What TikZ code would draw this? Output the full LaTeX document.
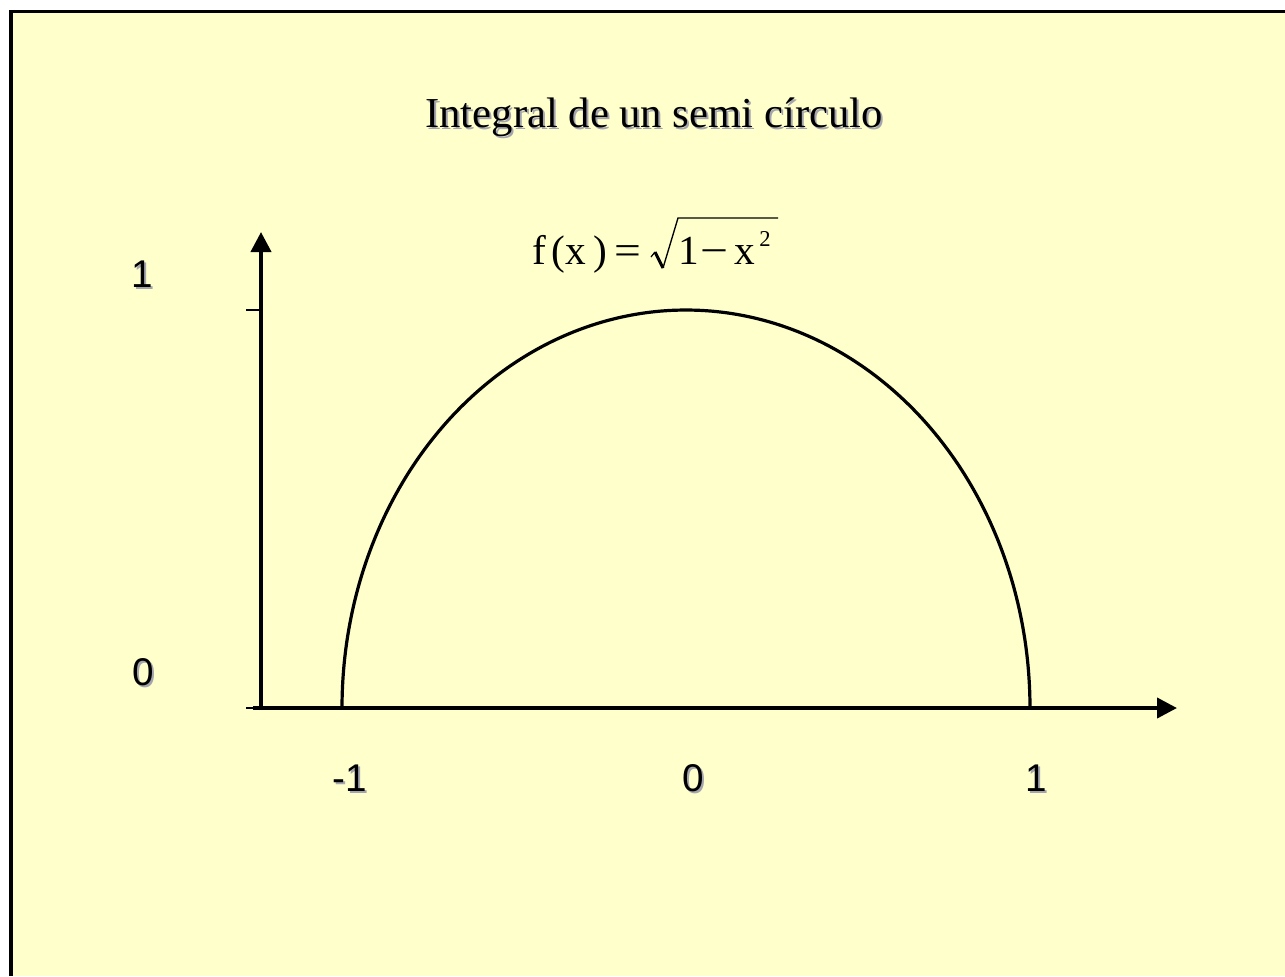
\documentclass[tikz,border=0pt]{standalone}
\usepackage{fontspec}
\usepackage{graphicx}
\setmainfont{Liberation Serif}
\newfontfamily\arialf{Liberation Sans}
\usetikzlibrary{arrows.meta}
\definecolor{slidebg}{RGB}{255,255,204}
\definecolor{shadowc}{RGB}{165,165,175}
\begin{document}
\begin{tikzpicture}[x=0.75pt,y=-0.75pt,
  axis/.style={line width=3pt, -{Triangle[length=15pt,width=15pt]}},
  tickline/.style={line width=0.8pt},
  curve/.style={line width=2.4pt},
  ttl/.style={font=\fontsize{32}{38}\selectfont, inner sep=0pt, anchor=base},
  frm/.style={font=\fontsize{31}{36}\selectfont, inner sep=0pt, anchor=base west},
  supstyle/.style={font=\fontsize{17}{20}\selectfont, inner sep=0pt, anchor=base west},
  num/.style={font=\arialf\fontsize{29}{34}\selectfont, inner sep=0pt},
  shd/.style={text=shadowc}]
\fill[white] (0,0) rectangle (1285,976);
\fill[black] (9,10) rectangle (1285,976);
\fill[slidebg] (13,13) rectangle (1285,976);
\useasboundingbox (0,0) rectangle (1285,976);

% title
\node[ttl,shd] (titleS) at (656,129) {Integral de un semi círculo};
\node[ttl] (title) at (654,127) {Integral de un semi círculo};

% formula
\node[frm] (ff) at (532,264) {f};
\node[frm] (fl) at (551,264) {(};
\node[frm] (fx) at (565,264) {x};
\node[frm] (fr) at (593,264) {)};
\node[frm] (feq) at (614,264) {\scalebox{1.15}[1]{=}};
\node[frm] (fone) at (678,264) {1};
\node[frm] (fminus) at (700,264) {\scalebox{1.2}[1]{−}};
\node[frm] (fx2) at (734,264) {x};
\node[supstyle] (ftwo) at (759,246) {2};
\coordinate (r0) at (651,257);
\coordinate (r1) at (655,252);
\coordinate (r2) at (663,268);
\coordinate (r3) at (678,218);
\coordinate (r4) at (778,218);
\draw[line width=0.9pt] (r0) -- (r1);
\draw[line width=2.2pt] (r1) -- (r2);
\draw[line width=1pt,line join=miter] (r2) -- (r3) -- (r4);

% axes
\coordinate (ybot) at (261,710);
\coordinate (ytop) at (261,232);
\coordinate (xstart) at (253,708);
\coordinate (xend) at (1177,708);
\coordinate (t1a) at (246,310);
\coordinate (t1b) at (261,310);
\coordinate (t0a) at (246,708);
\coordinate (t0b) at (261,708);
\draw[axis] (ybot) -- (ytop);
\draw[axis] (xstart) -- (xend);
\draw[tickline] (t1a) -- (t1b);
\draw[tickline] (t0a) -- (t0b);

% semicircle
\draw[curve] plot[domain=180:360, samples=200, smooth] ({686+344*cos(\x)}, {708+398*sin(\x)});

% labels
\node[num,shd] (ly1S) at (144,276) {1};
\node[num] (ly1) at (142,274) {1};
\node[num,shd] (ly0S) at (145,674) {0};
\node[num] (ly0) at (143,672) {0};
\node[num,shd] (lxm1S) at (352,780) {-1};
\node[num] (lxm1) at (350,778) {-1};
\node[num,shd] (lx0S) at (695,780) {0};
\node[num] (lx0) at (693,778) {0};
\node[num,shd] (lx1S) at (1038,780) {1};
\node[num] (lx1) at (1036,778) {1};
\end{tikzpicture}
\end{document}
